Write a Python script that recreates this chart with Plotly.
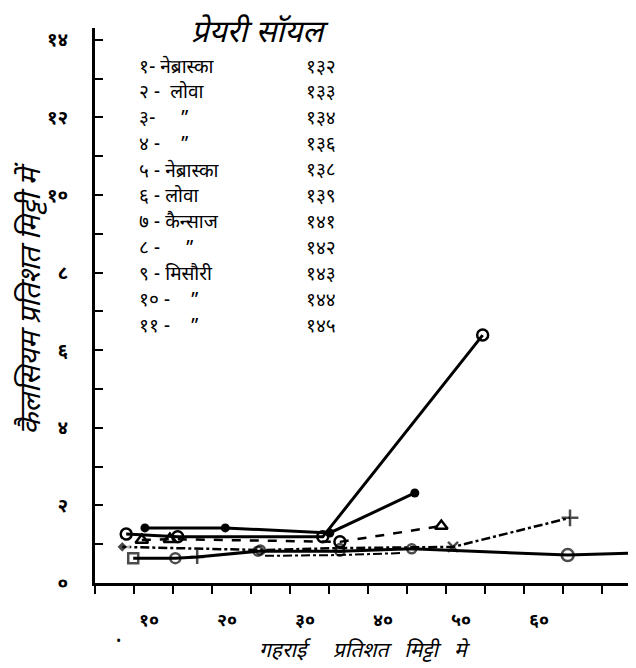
import plotly.graph_objects as go

# ---- data ----
s1_x = [6.4, 16.7, 30.1, 41.0]
s1_y = [1.42, 1.42, 1.29, 2.32]
s2_x = [4.0, 10.6, 29.2, 49.7]
s2_y = [1.26, 1.19, 1.19, 6.39]
s3_x = [6.0, 9.6, 31.4, 44.4]
s3_y = [1.11, 1.13, 1.06, 1.47]
s4_x = [3.5, 21.2, 31.4, 45.9, 60.9]
s4_y = [0.93, 0.85, 0.90, 0.93, 1.68]
s5_x = [4.9, 10.3, 13.1, 20.9, 31.4, 40.6, 60.6, 69.0]
s5_y = [0.64, 0.64, 0.67, 0.82, 0.82, 0.88, 0.72, 0.77]
s6_x = [21.8, 31.4, 39.1]
s6_y = [0.70, 0.72, 0.77]

y_tickvals = [0, 2, 4, 6, 8, 10, 12, 14]
y_ticktext = ["०", "२", "४", "६", "८", "१०", "१२", "१४"]
x_tickvals = [10, 20, 30, 40, 50, 60]
x_ticktext = ["१०", "२०", "३०", "४०", "५०", "६०"]

legend_title = "प्रेयरी सॉयल"
legend_names = ["१- नेब्रास्का", "२ -  लोवा", "३-     ”", "४ -    ”", "५ - नेब्रास्का",
                "६ - लोवा", "७ - कैन्साज", "८ -     ”", "९ - मिसौरी", "१० -    ”", "११ -    ”"]
legend_nums = ["१३२", "१३३", "१३४", "१३६", "१३८", "१३९", "१४१", "१४२", "१४३", "१४४", "१४५"]

x_title = "गहराई\u2003 प्रतिशत\u2002 मिट्टी\u2002 मे"
y_title = "कैलसियम प्रतिशत मिट्टी में"

FONT = "Noto Sans Devanagari, Lohit Devanagari, Mangal, Noto Sans, sans-serif"

fig = go.Figure()
fig.add_trace(go.Scatter(x=s1_x, y=s1_y, mode="lines+markers",
                         line=dict(color="black", width=3),
                         marker=dict(symbol="circle", size=9, color="black")))
fig.add_trace(go.Scatter(x=s2_x, y=s2_y, mode="lines+markers",
                         line=dict(color="black", width=3),
                         marker=dict(symbol="circle-open", size=11, color="black", line=dict(width=2.5))))
fig.add_trace(go.Scatter(x=s3_x, y=s3_y, mode="lines+markers",
                         line=dict(color="black", width=2.5, dash="dash"),
                         marker=dict(symbol=["triangle-up-open", "triangle-up-open", "circle-open", "triangle-up-open"],
                                     size=11, color="black", line=dict(width=2.5))))
fig.add_trace(go.Scatter(x=s4_x, y=s4_y, mode="lines+markers",
                         line=dict(color="black", width=2.5, dash="dashdot"),
                         marker=dict(symbol=["diamond", "circle-open", "circle-open", "x-thin-open", "cross-thin-open"],
                                     size=[10, 9, 8, 10, 12], color="black", line=dict(width=2.5))))
fig.add_trace(go.Scatter(x=s5_x, y=s5_y, mode="lines+markers",
                         line=dict(color="black", width=3),
                         marker=dict(symbol=["square-open", "circle-open", "cross-thin-open", "circle-open",
                                             "circle-open", "circle-open", "circle-open", "line-ns-open"],
                                     size=[10, 10, 10, 9, 9, 9, 12, 1], color="black", line=dict(width=2.5))))
fig.add_trace(go.Scatter(x=s6_x, y=s6_y, mode="lines",
                         line=dict(color="black", width=2, dash="dashdot")))

# page has an 8px body margin: figure coords = page coords - 8
OFF = 8
W, H = 636 - OFF, 668 - OFF
L, R, T, B = 95 - OFF, 636 - OFF, 28 - OFF, 583 - OFF
def px(x):
    return (x - OFF - L) / (R - L)
def py(y):
    return (B - (y - OFF)) / (B - T)

ann = []
ann.append(dict(text=legend_title, x=px(260), y=py(35), xref="paper", yref="paper",
                showarrow=False, font=dict(size=31, family=FONT, color="black", style="italic"),
                xanchor="center", yanchor="middle"))
rows_y = [68 + 25.9 * i for i in range(len(legend_names))]
for name, num, yy in zip(legend_names, legend_nums, rows_y):
    ann.append(dict(text=name, x=px(137), y=py(yy), xref="paper", yref="paper", showarrow=False,
                    font=dict(size=19, family=FONT, color="black"), xanchor="left", yanchor="middle"))
    ann.append(dict(text=num, x=px(304), y=py(yy), xref="paper", yref="paper", showarrow=False,
                    font=dict(size=19, family=FONT, color="black"), xanchor="left", yanchor="middle"))
ann.append(dict(text=x_title, x=px(365), y=py(652), xref="paper", yref="paper", showarrow=False,
                font=dict(size=21, family=FONT, color="black", style="italic"), xanchor="center", yanchor="middle"))
ann.append(dict(text=y_title, x=px(33), y=py(298), xref="paper", yref="paper", showarrow=False,
                textangle=-90, font=dict(size=29, family=FONT, color="black", style="italic"),
                xanchor="center", yanchor="middle"))
ann.append(dict(text="•", x=px(118), y=py(640), xref="paper", yref="paper", showarrow=False,
                font=dict(size=14, color="black"), xanchor="center", yanchor="middle"))
fig.update_layout(annotations=ann)

fig.update_layout(
    width=W, height=H,
    margin=dict(l=L, r=W - R, t=T, b=H - B, autoexpand=False),
    paper_bgcolor="white", plot_bgcolor="white",
    showlegend=False,
    xaxis=dict(range=[0, (R - L) / 7.8], showgrid=False, zeroline=False, automargin=False,
               showline=True, linecolor="black", linewidth=3,
               tickvals=x_tickvals, ticktext=x_ticktext, ticks="outside", ticklen=8,
               tickwidth=2, tickcolor="black", ticklabelshift=-24, ticklabelstandoff=10,
               tickfont=dict(size=18, family=FONT, color="black", weight="bold"),
               minor=dict(dtick=5, tick0=0, ticks="outside", ticklen=8, tickwidth=2, tickcolor="black")),
    yaxis=dict(range=[0, (B - T) / 38.8], showgrid=False, zeroline=False, automargin=False,
               showline=True, linecolor="black", linewidth=3,
               tickvals=y_tickvals, ticktext=y_ticktext, ticks="inside", ticklen=8,
               tickwidth=2, tickcolor="black", ticklabelstandoff=20,
               tickfont=dict(size=19, family=FONT, color="black", weight="bold"),
               minor=dict(dtick=1, tick0=0, ticks="inside", ticklen=8, tickwidth=2, tickcolor="black")),
)

fig.write_html("out.html")
